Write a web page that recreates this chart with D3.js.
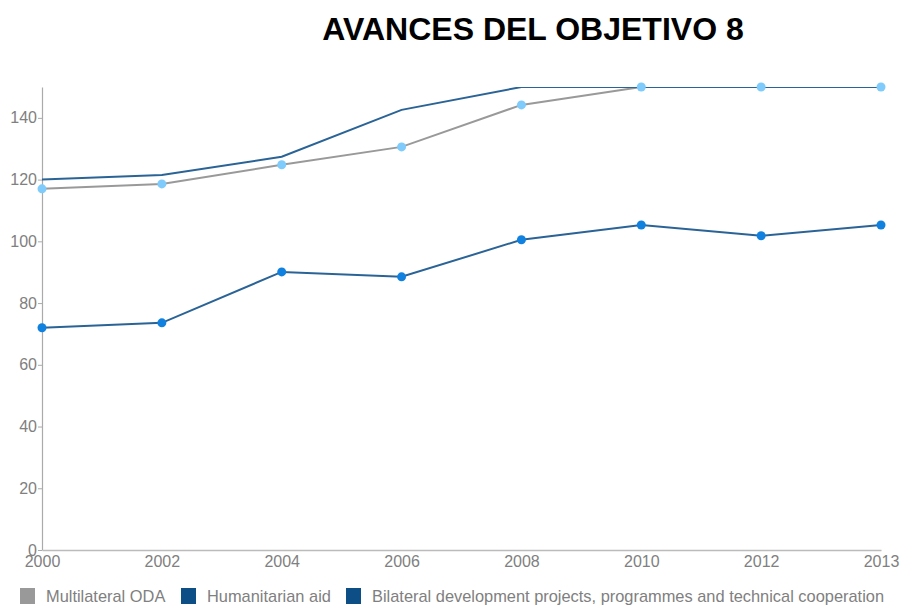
<!DOCTYPE html>
<html>
<head>
<meta charset="utf-8">
<script src="https://cdn.jsdelivr.net/npm/d3@7"></script>
<style>
  body { margin: 0; background: #fff; }
  svg { font-family: "Liberation Sans", Arial, sans-serif; }
</style>
</head>
<body>
<svg id="chart" width="902" height="605"></svg>
<script>
// years on the x axis (evenly spaced categories)
const years = ["2000", "2002", "2004", "2006", "2008", "2010", "2012", "2013"];

// series values (values above 150 are cut by the chart)
const multilateral = [117, 118.6, 124.8, 130.6, 144.2, 150, 150, 150];
const humanitarian = [120, 121.5, 127.4, 142.6, 150, 150, 150, 150];
const bilateral = [72, 73.6, 90.1, 88.5, 100.5, 105.3, 101.8, 105.3];

const yTicks = [0, 20, 40, 60, 80, 100, 120, 140];

const seriesNames = ["Multilateral ODA", "Humanitarian aid", "Bilateral development projects, programmes and technical cooperation"];
const legendColors = ["#999999", "#0e4e86", "#0e4e86"];

const svg = d3.select("#chart");

const margin = { top: 87, left: 42, right: 21, bottom: 55 };
const width = 902 - margin.left - margin.right;
const height = 605 - margin.top - margin.bottom;

// title
svg.append("text")
  .attr("x", 533)
  .attr("y", 40)
  .attr("text-anchor", "middle")
  .style("font-size", "32px")
  .style("font-weight", "bold")
  .text("AVANCES DEL OBJETIVO 8");

const g = svg.append("g")
  .attr("transform", `translate(${margin.left},${margin.top})`);

const x = d3.scalePoint()
  .domain(years)
  .range([0, width]);

const y = d3.scaleLinear()
  .domain([0, 150])
  .range([height, 0]);

// y axis
const yAxis = g.append("g")
  .call(d3.axisLeft(y).tickValues(yTicks).tickSize(4).tickPadding(1).tickSizeOuter(0));
yAxis.select(".domain").attr("stroke", "#aaa").attr("stroke-width", 1.2);
yAxis.selectAll(".tick line").attr("stroke", "#aaa");
yAxis.selectAll(".tick text")
  .attr("fill", "#808080")
  .style("font-size", "16px");

// x axis
const xAxis = g.append("g")
  .attr("transform", `translate(0,${height})`)
  .call(d3.axisBottom(x).tickSize(0).tickPadding(6).tickSizeOuter(0));
xAxis.select(".domain").attr("stroke", "#bbb").attr("stroke-width", 1.5);
xAxis.selectAll(".tick text")
  .attr("fill", "#808080")
  .style("font-size", "16px");

// clip at top of chart
g.append("clipPath").attr("id", "plot-clip")
  .append("rect")
  .attr("x", -10).attr("y", 0)
  .attr("width", width + 20).attr("height", height);

const plot = g.append("g").attr("clip-path", "url(#plot-clip)");

const line = d3.line()
  .x((d, i) => x(years[i]))
  .y(d => y(d));

plot.append("path")
  .datum(multilateral)
  .attr("fill", "none")
  .attr("stroke", "#999")
  .attr("stroke-width", 2)
  .attr("d", line);

plot.append("path")
  .datum(humanitarian)
  .attr("fill", "none")
  .attr("stroke", "#2a6396")
  .attr("stroke-width", 2)
  .attr("d", line);

plot.append("path")
  .datum(bilateral)
  .attr("fill", "none")
  .attr("stroke", "#2a6396")
  .attr("stroke-width", 2)
  .attr("d", line);

// points
g.selectAll(".pt-multi")
  .data(multilateral)
  .enter()
  .append("circle")
  .attr("class", "pt-multi")
  .attr("cx", (d, i) => x(years[i]))
  .attr("cy", d => y(d))
  .attr("r", 4.5)
  .attr("fill", "#7fcbfb");

g.selectAll(".pt-bi")
  .data(bilateral)
  .enter()
  .append("circle")
  .attr("class", "pt-bi")
  .attr("cx", (d, i) => x(years[i]))
  .attr("cy", d => y(d))
  .attr("r", 4.5)
  .attr("fill", "#1181e0");

// legend
const legendX = [20, 181, 346];
const legend = svg.append("g");
seriesNames.forEach((name, i) => {
  legend.append("rect")
    .attr("x", legendX[i])
    .attr("y", 588)
    .attr("width", 15)
    .attr("height", 16)
    .attr("fill", legendColors[i]);
  legend.append("text")
    .attr("x", legendX[i] + 26)
    .attr("y", 602)
    .attr("fill", "#808080")
    .style("font-size", "16.4px")
    .text(name);
});
</script>
</body>
</html>
